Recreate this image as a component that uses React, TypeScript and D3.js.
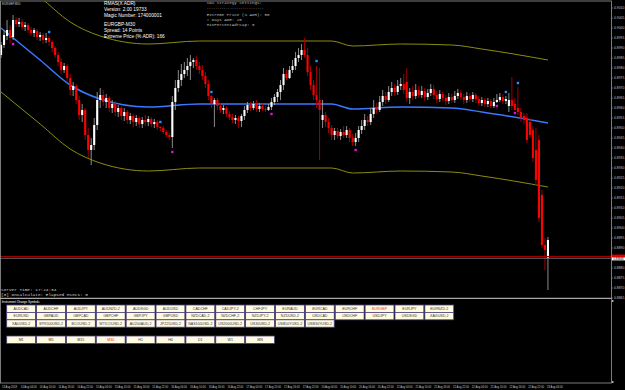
import React from 'react';
import * as d3 from 'd3';

const W = 625;
const H = 390;

// ---- candle data (EURGBP M30) ----
const opens = [
  0.89865, 0.89915, 0.8996, 0.8999, 0.89955, 0.9004, 0.9002, 0.9003, 0.90005, 0.90015,
  0.8999, 0.89975, 0.89985, 0.89955, 0.89965, 0.8994, 0.8995, 0.8993, 0.899, 0.89865,
  0.8983, 0.8979, 0.8981, 0.8975, 0.8969, 0.8971, 0.8964, 0.89565, 0.8959, 0.89465,
  0.8939, 0.89415, 0.89515, 0.8964, 0.89665, 0.8963, 0.8965, 0.896, 0.8962, 0.8958,
  0.896, 0.8956, 0.8958, 0.8954, 0.8956, 0.8953, 0.8955, 0.8952, 0.8954, 0.8953,
  0.89545, 0.8952, 0.8953, 0.89505, 0.895, 0.8948, 0.89465, 0.89455, 0.8963, 0.897,
  0.8974, 0.8977, 0.8979, 0.8981, 0.8983, 0.8984, 0.8981, 0.8979, 0.8976, 0.8972,
  0.8966, 0.8962, 0.8964, 0.8961, 0.8959, 0.896, 0.8957, 0.89555, 0.8954, 0.8955,
  0.89535, 0.8956, 0.8959, 0.89615, 0.896, 0.8962, 0.89595, 0.8961, 0.89595, 0.8959,
  0.89605, 0.8963, 0.89655, 0.8968, 0.89715, 0.8977, 0.8975, 0.8979, 0.8981, 0.8985,
  0.89865, 0.8989, 0.89865, 0.8978, 0.89715, 0.89665, 0.8964, 0.8954, 0.89565, 0.8953,
  0.895, 0.89465, 0.89485, 0.8946, 0.8948, 0.89465, 0.8949, 0.8945, 0.8943, 0.8945,
  0.8949, 0.8951, 0.8954, 0.8953, 0.8957, 0.896, 0.8959, 0.8963, 0.8966, 0.8964,
  0.8968, 0.897, 0.8968, 0.8971, 0.8972, 0.8973, 0.8965, 0.8968, 0.8966, 0.8969,
  0.89665, 0.89685, 0.89655, 0.89675, 0.89695, 0.89665, 0.89645, 0.8967, 0.8965, 0.89635,
  0.89655, 0.8964, 0.8966, 0.89675, 0.89655, 0.8964, 0.8966, 0.89645, 0.89665, 0.89645,
  0.89625, 0.8964, 0.8962, 0.89635, 0.8961, 0.8963, 0.8964, 0.89655, 0.89635, 0.8961,
  0.8964, 0.8962, 0.896, 0.8958, 0.8956, 0.8955, 0.8953, 0.8949, 0.8939, 0.8944,
  0.89165, 0.88915, 0.8885,
];
const highs = [
  0.8993, 0.8999, 0.9004, 0.90015, 0.90065, 0.90055, 0.9005, 0.90045, 0.9003, 0.90025,
  0.90005, 0.9, 0.89995, 0.8998, 0.89975, 0.89975, 0.8996, 0.8994, 0.8991, 0.8988,
  0.8985, 0.89825, 0.8982, 0.8977, 0.8973, 0.8972, 0.8966, 0.8962, 0.896, 0.895,
  0.8945, 0.8955, 0.8968, 0.897, 0.8969, 0.8967, 0.8966, 0.8964, 0.89635, 0.89615,
  0.8961, 0.896, 0.8959, 0.89575, 0.8957, 0.89565, 0.8956, 0.89555, 0.89565, 0.8956,
  0.89555, 0.89545, 0.8954, 0.8951, 0.8951, 0.8949, 0.89475, 0.8966, 0.8974, 0.8979,
  0.8982, 0.8983, 0.8985, 0.89865, 0.8985, 0.8986, 0.8983, 0.89815, 0.8978, 0.8974,
  0.89665, 0.8965, 0.8965, 0.89625, 0.89615, 0.8961, 0.89585, 0.8957, 0.89565, 0.8956,
  0.8957, 0.8961, 0.8963, 0.8963, 0.89635, 0.8964, 0.89625, 0.8962, 0.8961, 0.8962,
  0.8965, 0.8967, 0.89695, 0.8974, 0.898, 0.8979, 0.8981, 0.8984, 0.8988, 0.899,
  0.8992, 0.8995, 0.899, 0.8981, 0.8974, 0.8981, 0.898, 0.8964, 0.8958, 0.8955,
  0.89515, 0.895, 0.895, 0.89495, 0.8951, 0.8951, 0.895, 0.8947, 0.89475, 0.8951,
  0.8954, 0.8957, 0.8956, 0.896, 0.8964, 0.89625, 0.8966, 0.8969, 0.8968, 0.8971,
  0.8973, 0.8972, 0.8974, 0.8975, 0.8977, 0.898, 0.897, 0.8971, 0.8972, 0.8971,
  0.8971, 0.897, 0.89695, 0.8972, 0.89715, 0.89685, 0.8969, 0.89685, 0.89665, 0.89675,
  0.8967, 0.89685, 0.89695, 0.8969, 0.8967, 0.8968, 0.89675, 0.8968, 0.89675, 0.8966,
  0.89655, 0.8965, 0.8965, 0.89645, 0.8965, 0.8967, 0.89675, 0.8967, 0.8966, 0.89675,
  0.89755, 0.8965, 0.89705, 0.896, 0.89575, 0.89575, 0.8955, 0.8951, 0.895, 0.89465,
  0.8919, 0.8895, 0.88955,
];
const lows = [
  0.8985, 0.899, 0.8994, 0.89925, 0.8994, 0.90005, 0.90005, 0.8999, 0.89985, 0.89975,
  0.8996, 0.89955, 0.8994, 0.89935, 0.8992, 0.89925, 0.8991, 0.8988, 0.8985, 0.8981,
  0.8977, 0.89775, 0.8973, 0.89665, 0.8966, 0.8962, 0.8954, 0.8953, 0.8944, 0.8935,
  0.89315, 0.8939, 0.8949, 0.896, 0.8961, 0.896, 0.8958, 0.89575, 0.8956, 0.89555,
  0.8954, 0.89535, 0.8952, 0.8952, 0.89505, 0.8951, 0.895, 0.895, 0.8951, 0.8951,
  0.89505, 0.895, 0.8949, 0.89485, 0.8947, 0.89455, 0.8944, 0.894, 0.8959, 0.8968,
  0.8971, 0.8975, 0.8976, 0.8974, 0.898, 0.8979, 0.8977, 0.8974, 0.897, 0.8964,
  0.896, 0.89505, 0.8959, 0.89575, 0.8957, 0.89555, 0.8954, 0.89525, 0.8952, 0.895,
  0.89505, 0.8954, 0.89575, 0.89585, 0.8959, 0.8958, 0.8958, 0.89585, 0.8958, 0.89585,
  0.8959, 0.89615, 0.8963, 0.8964, 0.8969, 0.8974, 0.89745, 0.89775, 0.8979, 0.8983,
  0.8984, 0.8985, 0.8976, 0.8969, 0.8964, 0.896, 0.8934, 0.895, 0.89505, 0.89475,
  0.8944, 0.8944, 0.89445, 0.8944, 0.8945, 0.8945, 0.8943, 0.8941, 0.8941, 0.8943,
  0.8947, 0.8949, 0.8951, 0.89515, 0.8955, 0.8957, 0.8958, 0.8961, 0.8962, 0.8963,
  0.8966, 0.8966, 0.89665, 0.8969, 0.8967, 0.8963, 0.8962, 0.8964, 0.89645, 0.8965,
  0.8965, 0.89635, 0.8964, 0.8966, 0.89645, 0.89625, 0.8963, 0.89635, 0.89615, 0.8962,
  0.89625, 0.89625, 0.89645, 0.8964, 0.8962, 0.89625, 0.8963, 0.8963, 0.89625, 0.8961,
  0.8961, 0.89605, 0.89605, 0.896, 0.896, 0.89625, 0.8963, 0.8962, 0.8962, 0.8958,
  0.8959, 0.8959, 0.89565, 0.8953, 0.8952, 0.89425, 0.8945, 0.8933, 0.89215, 0.8903,
  0.889, 0.8879, 0.8869,
];
const closes = [
  0.89915, 0.89965, 0.8999, 0.8995, 0.9004, 0.9002, 0.9003, 0.90005, 0.90015, 0.8999,
  0.89975, 0.8999, 0.89955, 0.89965, 0.8994, 0.8995, 0.8993, 0.899, 0.89865, 0.8983,
  0.8979, 0.8981, 0.8975, 0.8969, 0.8971, 0.8964, 0.89565, 0.8959, 0.89465, 0.8939,
  0.89415, 0.89515, 0.8964, 0.89665, 0.8963, 0.8965, 0.896, 0.8962, 0.8958, 0.896,
  0.8956, 0.8958, 0.8954, 0.8956, 0.8953, 0.8955, 0.8952, 0.8954, 0.8953, 0.89545,
  0.8952, 0.8953, 0.89505, 0.895, 0.8948, 0.89465, 0.89455, 0.8963, 0.897, 0.8974,
  0.8977, 0.8979, 0.8981, 0.8983, 0.8984, 0.8981, 0.8979, 0.8976, 0.8972, 0.8966,
  0.8962, 0.8964, 0.8961, 0.8959, 0.896, 0.8957, 0.89555, 0.8954, 0.8955, 0.89535,
  0.8956, 0.8959, 0.89615, 0.896, 0.8962, 0.89595, 0.8961, 0.89595, 0.8959, 0.89605,
  0.8963, 0.89655, 0.8968, 0.89715, 0.8977, 0.8975, 0.8979, 0.8981, 0.8985, 0.89865,
  0.8989, 0.89865, 0.8978, 0.89715, 0.89665, 0.8964, 0.8959, 0.89565, 0.8953, 0.895,
  0.89465, 0.89485, 0.8946, 0.8948, 0.89465, 0.8949, 0.8945, 0.8943, 0.8945, 0.8949,
  0.8951, 0.8954, 0.8953, 0.8957, 0.896, 0.8959, 0.8963, 0.8966, 0.8964, 0.8968,
  0.897, 0.8968, 0.8971, 0.8972, 0.8969, 0.8965, 0.8968, 0.8966, 0.8969, 0.89665,
  0.89685, 0.89655, 0.89675, 0.89695, 0.89665, 0.89645, 0.8967, 0.8965, 0.89635, 0.89655,
  0.8964, 0.8966, 0.89675, 0.89655, 0.8964, 0.8966, 0.89645, 0.89665, 0.89645, 0.89625,
  0.8964, 0.8962, 0.89635, 0.8961, 0.8963, 0.8964, 0.89655, 0.89635, 0.89645, 0.8964,
  0.8961, 0.8959, 0.8958, 0.8955, 0.8954, 0.8944, 0.89465, 0.8935, 0.8924, 0.8905,
  0.88915, 0.8889, 0.8894,
];

// ---- moving average and ADR bands (sparse readings by bar) ----
const maBars = [0, 13, 23, 33, 49, 66, 110, 117, 133, 150, 160, 182];
const maValues = [0.9, 0.8984, 0.89715, 0.89645, 0.89605, 0.8962, 0.8962, 0.89595, 0.89605, 0.896, 0.8958, 0.89525];
const upperBand = [0.90315, 0.90155, 0.9003, 0.8996, 0.8992, 0.89935, 0.89935, 0.8991, 0.8992, 0.89915, 0.89895, 0.8984];
const lowerBand = [0.8968, 0.8952, 0.89395, 0.89325, 0.89285, 0.893, 0.893, 0.89275, 0.89285, 0.8928, 0.8926, 0.89205];

// ---- signal markers ----
const markerBars = [4, 16, 53, 57, 70, 90, 105, 118, 165, 168, 171, 172];
const markerPrices = [0.8992, 0.8998, 0.8953, 0.8938, 0.8968, 0.8957, 0.89835, 0.8939, 0.8961, 0.8968, 0.89575, 0.89725];
const markerKinds = ['buy', 'sell', 'sell', 'buy', 'sell', 'buy', 'sell', 'buy', 'buy', 'sell', 'buy', 'sell'];

const redLinePrice = 0.88857;
const bidPrice = 0.88848;

const priceTicks = [
  0.901, 0.9005, 0.9, 0.8995, 0.899, 0.8985, 0.898, 0.8975, 0.897, 0.8965,
  0.896, 0.8955, 0.895, 0.8945, 0.894, 0.8935, 0.893, 0.8925, 0.892, 0.8915,
  0.891, 0.8905, 0.89, 0.8895, 0.889, 0.8885, 0.888, 0.8875, 0.887, 0.8865,
];

const timeLabels = [
  '13 Aug 2018', '14 Aug 04:00', '14 Aug 10:00', '14 Aug 16:00', '14 Aug 22:00',
  '15 Aug 04:00', '15 Aug 10:00', '15 Aug 16:00', '15 Aug 22:00', '16 Aug 04:00',
  '16 Aug 10:00', '16 Aug 16:00', '16 Aug 22:00', '17 Aug 04:00', '17 Aug 10:00',
  '17 Aug 16:00', '17 Aug 22:00', '20 Aug 04:00', '20 Aug 10:00', '20 Aug 16:00',
  '20 Aug 22:00', '21 Aug 04:00', '21 Aug 10:00', '21 Aug 16:00', '21 Aug 22:00',
  '22 Aug 04:00', '22 Aug 10:00', '22 Aug 16:00', '22 Aug 22:00', '23 Aug 04:00',
];

const symbolRow1 = ['AUDCAD', 'AUDCHF', 'AUDJPY', 'AUDNZD-2', 'AUDSGD', 'AUDUSD', 'CADCHF', 'CADJPY-2', 'CHFJPY', 'EURAUD', 'EURCAD', 'EURCHF', 'EURGBP', 'EURJPY', 'EURNZD-2'];
const symbolRow2 = ['EURUSD', 'GBPAUD', 'GBPCAD', 'GBPCHF', 'GBPJPY', 'GBPUSD', 'NZDCAD-2', 'NZDCHF-2', 'NZDJPY-2', 'NZDUSD-2', 'USDCAD', 'USDCHF', 'USDJPY', 'USDSGD', 'XAGUSD-2'];
const symbolRow3 = ['XAUUSD-2', 'SPX500USD-2', 'BCOUSD-2', 'WTICOUSD-2', 'AU200AUD-2', 'JP225USD-2', 'NAS100USD-2', 'US2000USD-2', 'US30USD-2', 'USB10YUSD-2', 'USB30YUSD-2'];
const timeframes = ['M1', 'M5', 'M15', 'M30', 'H1', 'H4', 'D1', 'W1', 'MN'];
const activeSymbol = 'EURGBP';
const activeTf = 'M30';

const infoLines = ['RMAS(X ADR)', 'Version: 2.00 19733', 'Magic Number: 174000001'];
const infoLines2 = ['EURGBP-M30', 'Spread: 14 Points', 'Extreme Price (% ADR): 166'];
const settingsLines = ['Extreme Price (% ADR): 50', '# Days ADR: 20', 'MinPercentAdrCap: 0'];

export default function App() {
  const n = closes.length;
  const x = d3.scaleBand<number>().domain(d3.range(n)).range([0, 549]).paddingInner(0.3);
  const bw = x.bandwidth();
  const cx = (i: number) => (x(i) as number) + bw / 2;
  const y = d3.scaleLinear().domain([0.8865, 0.901]).range([298, 8]);

  const mkLine = (vals: number[]) =>
    d3
      .line<number>()
      .x((_, k) => cx(maBars[k]))
      .y((v) => y(v))
      .curve(d3.curveMonotoneX)(vals) || '';

  const tx = d3.scaleLinear().domain([0, timeLabels.length - 1]).range([2, 547]);
  const col = d3.scaleBand<number>().domain(d3.range(15)).range([6.7, 453.7]).paddingInner(0.034);
  const rowTop = [305, 312.4, 319.8];
  const rowH = 7.4;
  const rows = [symbolRow1, symbolRow2, symbolRow3];

  const mono = '"Liberation Mono", "DejaVu Sans Mono", monospace';
  const sans = '"Liberation Sans", Arial, sans-serif';

  const button = (label: string, k: number, top: number, active: boolean, key: string) => (
    <g key={key}>
      <rect x={col(k)} y={top} width={col.bandwidth()} height={rowH} fill="#fffbe0" stroke="#4a4080" strokeWidth={0.8} />
      <text
        x={(col(k) as number) + col.bandwidth() / 2}
        y={top + rowH / 2 + 1.3}
        fontSize={3.6}
        fontFamily={sans}
        textAnchor="middle"
        fill={active ? '#ff2020' : '#333333'}
      >
        {label}
      </text>
    </g>
  );

  return (
    <svg width={W} height={H} style={{ position: 'absolute', left: 0, top: 0, display: 'block' }}>
      <defs>
        <clipPath id="main">
          <rect x={0} y={1.5} width={611} height={296.5} />
        </clipPath>
      </defs>
      <rect x={0} y={0} width={W} height={H} fill="#000" />

      <g clipPath="url(#main)">
        <path d={mkLine(upperBand)} fill="none" stroke="#8c8c10" strokeWidth={1} />
        <path d={mkLine(lowerBand)} fill="none" stroke="#8c8c10" strokeWidth={1} />
        <path d={mkLine(maValues)} fill="none" stroke="#3a78ff" strokeWidth={1.5} />

        {closes.map((c, i) => {
          const o = opens[i];
          const up = c >= o;
          const top = y(Math.max(o, c));
          const bot = y(Math.min(o, c));
          return (
            <g key={i}>
              <line x1={cx(i)} x2={cx(i)} y1={y(highs[i])} y2={y(lows[i])} stroke={up ? '#9a9a9a' : '#b00000'} strokeWidth={0.9} />
              <rect x={x(i)} y={top} width={bw} height={Math.max(1, bot - top)} fill={up ? '#ffffff' : '#ff0000'} />
            </g>
          );
        })}

        {markerBars.map((b, k) => (
          <rect
            key={'m' + k}
            x={cx(b) - 1.2}
            y={y(markerPrices[k]) - 1.2}
            width={2.4}
            height={2.4}
            fill={markerKinds[k] === 'buy' ? '#e010e0' : '#1e90ff'}
          />
        ))}

        <line x1={0} x2={611} y1={y(redLinePrice)} y2={y(redLinePrice)} stroke="#a00000" strokeWidth={1.4} />
        <line x1={0} x2={611} y1={y(bidPrice)} y2={y(bidPrice)} stroke="#707070" strokeWidth={0.8} />
      </g>

      {/* frame */}
      <rect x={0.5} y={1} width={611} height={382} fill="none" stroke="#9a9a9a" strokeWidth={0.8} />
      <line x1={0} x2={611.5} y1={298.3} y2={298.3} stroke="#a8a8a8" strokeWidth={1.2} />

      {/* title */}
      <text x={2} y={4.8} fontSize={2.9} fontFamily={sans} fill="#c8c8c8">EURGBP,M30</text>

      {/* info block */}
      {infoLines.map((t, k) => (
        <text key={'i' + k} x={104} y={5 + k * 6} fontSize={4.8} fontFamily={sans} fill="#ffffff">{t}</text>
      ))}
      {infoLines2.map((t, k) => (
        <text key={'j' + k} x={104} y={26 + k * 5.8} fontSize={4.8} fontFamily={sans} fill="#ffffff">{t}</text>
      ))}

      {/* settings block */}
      <text x={206.7} y={4.4} fontSize={4.2} fontFamily={mono} fill="#bdbdbd">SDX Strategy Settings:</text>
      <text x={206.7} y={9.2} fontSize={3.4} fontFamily={mono} fill="#bdbdbd" textLength={57} lengthAdjust="spacing">{'---------------------------'}</text>
      {settingsLines.map((t, k) => (
        <text key={'s' + k} x={206.7} y={15.7 + k * 5.3} fontSize={4.2} fontFamily={mono} fill="#bdbdbd">{t}</text>
      ))}

      <text x={1} y={290.8} fontSize={4.4} fontFamily={mono} fill="#d0d0d0">Server Time: 17:24:34</text>
      <text x={1} y={295.8} fontSize={4.4} fontFamily={mono} fill="#d0d0d0">[8] OnCalculate: Elapsed MSecs: 0</text>

      {/* price axis */}
      {priceTicks.map((t, k) => (
        <g key={'p' + k}>
          <line x1={611.5} x2={613} y1={y(t)} y2={y(t)} stroke="#9a9a9a" strokeWidth={0.6} />
          <text x={614} y={y(t) + 1.2} fontSize={3.4} fontFamily={sans} fill="#c0c0c0">{t.toFixed(4)}</text>
        </g>
      ))}
      <rect x={612} y={y(redLinePrice) - 2} width={13} height={2.8} fill="#e00000" />
      <rect x={612} y={y(bidPrice) - 1} width={13} height={3} fill="#ffffff" />
      <text x={613.5} y={y(bidPrice) + 1.6} fontSize={2.8} fontFamily={sans} fill="#000">{bidPrice.toFixed(5)}</text>
      <rect x={612.3} y={300} width={1} height={2} fill="#ffffff" />
      <rect x={612.3} y={381} width={1} height={2} fill="#ffffff" />

      {/* sub window: symbol changer */}
      <text x={1.7} y={302.8} fontSize={3} fontFamily={sans} fill="#ffffff">Instrument Change Symbols</text>
      {rows.map((row, r) => row.map((s, k) => button(s, k, rowTop[r], s === activeSymbol, `b${r}-${k}`)))}
      {timeframes.map((tf, k) => button(tf, k, 336, tf === activeTf, `tf${k}`))}

      {/* time axis */}
      {timeLabels.map((t, k) => (
        <text key={'t' + k} x={tx(k)} y={388} fontSize={2.7} fontFamily={sans} fill="#c8c8c8">{t}</text>
      ))}
    </svg>
  );
}
